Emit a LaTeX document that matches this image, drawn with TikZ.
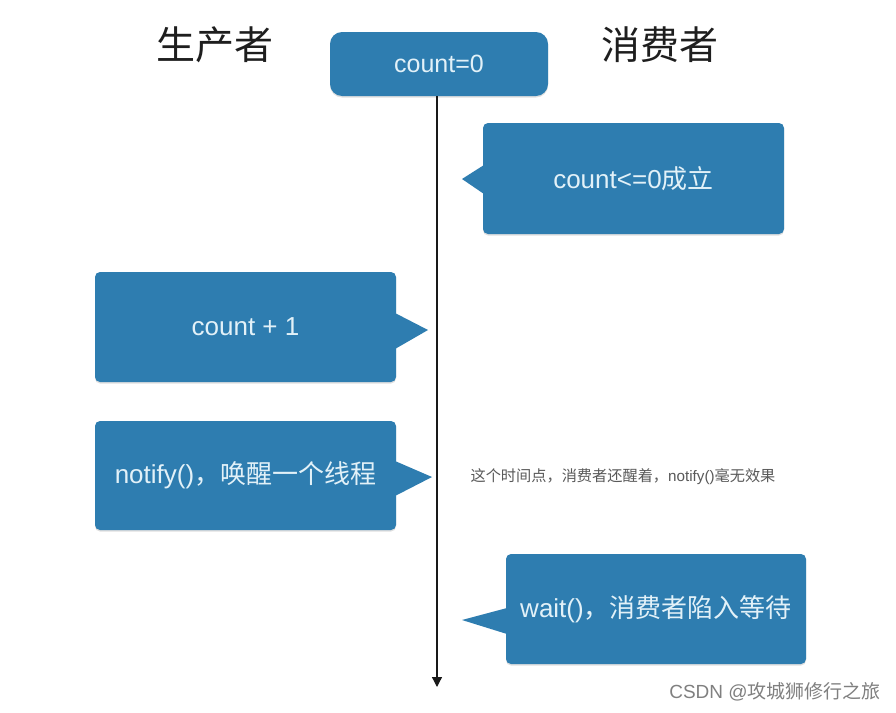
\documentclass[tikz,border=0pt]{standalone}
\usepackage{fontspec}
\setmainfont{Liberation Sans}
\newfontfamily\cjk{Noto Sans CJK SC}
\usetikzlibrary{shadows,arrows.meta}
\definecolor{boxblue}{RGB}{46,125,176}
\definecolor{boxtext}{RGB}{226,241,248}
\definecolor{titlegray}{RGB}{30,30,30}
\begin{document}
\begin{tikzpicture}[x=1pt,y=-1pt,
  bubble/.style={fill=boxblue, rounded corners=5pt, text=boxtext, inner sep=0pt,
    font=\fontsize{26}{30}\selectfont,
    drop shadow={opacity=0.25, shadow xshift=0pt, shadow yshift=-1.5pt}},
  pointer/.style={fill=boxblue},
  title/.style={text=titlegray, font=\cjk\fontsize{39}{44}\selectfont},
  timeline/.style={draw=black!90, line width=1.3pt, -{Triangle[length=10pt,width=10pt]}}]
\useasboundingbox (0,0) rectangle (896,712);
\fill[white] (0,0) rectangle (896,712);

\node[title] (prod) at (215,45) {生产者};
\node[title] (cons) at (660,45) {消费者};

\node[bubble, rounded corners=12pt, minimum width=218pt, minimum height=64pt,
  font=\fontsize{25}{29}\selectfont] (c0) at (439,64) {count=0};
\coordinate (tend) at (437,687);
\draw[timeline] (c0.south -| tend) -- (tend);

\node[bubble, minimum width=301pt, minimum height=111pt] (c1) at (633.5,178.5) {count<=0{\cjk 成立}};
\fill[pointer] (484,165) -- (462,179) -- (484,194) -- cycle;

\node[bubble, minimum width=301pt, minimum height=110pt] (c2) at (245.5,327) {count + 1};
\fill[pointer] (395,313) -- (428,330) -- (395,349) -- cycle;

\node[bubble, minimum width=301pt, minimum height=109pt] (c3) at (245.5,475.5) {notify(){\cjk ，唤醒一个线程}};
\fill[pointer] (395,461) -- (432,477) -- (395,496) -- cycle;

\node[text=black!65, font=\fontsize{15.2}{18}\selectfont] (note) at (623,477) {{\cjk 这个时间点，消费者还醒着，}notify(){\cjk 毫无效果}};

\node[bubble, minimum width=300pt, minimum height=110pt] (c4) at (656,609) {wait(){\cjk ，消费者陷入等待}};
\fill[pointer] (507,608) -- (462,620) -- (507,634) -- cycle;

\node[text=black!50, font=\fontsize{19}{22}\selectfont] (wm) at (775,692) {CSDN @{\cjk 攻城狮修行之旅}};
\end{tikzpicture}
\end{document}
